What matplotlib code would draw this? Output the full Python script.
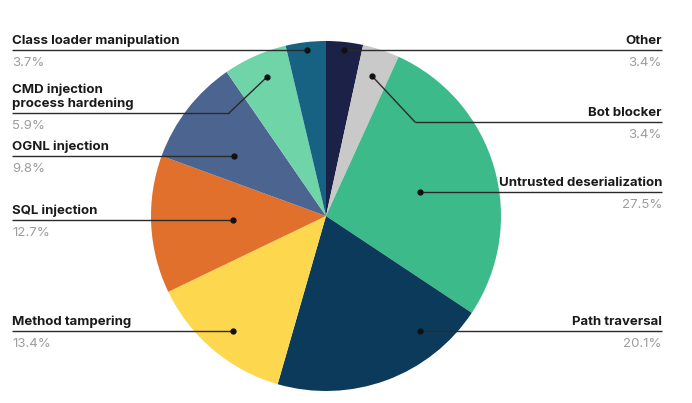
import matplotlib.pyplot as plt

# data, clockwise from 12 o'clock
labels = ['Other', 'Bot blocker', 'Untrusted deserialization', 'Path traversal',
          'Method tampering', 'SQL injection', 'OGNL injection',
          'CMD injection\nprocess hardening', 'Class loader manipulation']
shares = [3.4, 3.4, 27.5, 20.1, 13.4, 12.7, 9.8, 5.9, 3.7]
pct_text = ['3.4%', '3.4%', '27.5%', '20.1%', '13.4%', '12.7%', '9.8%', '5.9%', '3.7%']
colors = ['#1b2147', '#c9c9c9', '#3dba8a', '#0b3a5b', '#fdd84f',
          '#e0702b', '#4b6590', '#6fd5a9', '#176183']

W, H = 692, 403

# label layout in pixel coords: side, line y, dot x, dot y, elbow x
layout = [
    ('R', 50, 344, 50, None),
    ('R', 122, 372, 76, 415),
    ('R', 192, 420, 192, None),
    ('R', 331, 420, 331, None),
    ('L', 331, 233, 331, None),
    ('L', 220, 233, 220, None),
    ('L', 156, 234, 156, None),
    ('L', 113, 267, 77, 229),
    ('L', 50, 307, 50, None),
]


def py(y):
    # pixel y (top down) -> data y
    return H - y


fig = plt.figure(figsize=(W / 100, H / 100), dpi=100)
ax = fig.add_axes([0, 0, 1, 1])

ax.pie(shares, colors=colors, startangle=90, counterclock=False,
       center=(326, py(216)), radius=175, frame=True)
ax.set_xlim(0, W)
ax.set_ylim(0, H)
ax.set_aspect('equal')
ax.axis('off')

fam = ['Inter', 'DejaVu Sans']
x_left, x_right = 12, 662
for i, (side, ly, dx, dy, ex) in enumerate(layout):
    if side == 'L':
        xs = [x_left, ex if ex else dx]
        tx, ha = x_left, 'left'
    else:
        xs = [ex if ex else dx, x_right]
        tx, ha = x_right, 'right'
    ax.plot(xs, [py(ly), py(ly)], color='#2a2a2a', lw=1.0, solid_capstyle='butt')
    if ex:
        ax.plot([ex, dx], [py(ly), py(dy)], color='#2a2a2a', lw=1.0)
    ax.plot(dx, py(dy), 'o', color='#111111', ms=3.5)
    ax.text(tx, py(ly - 3), labels[i], ha=ha, va='bottom', fontsize=9.5,
            fontweight='bold', color='#1a1a1a', family=fam, linespacing=1.2)
    ax.text(tx, py(ly + 7), pct_text[i], ha=ha, va='top', fontsize=9.5,
            fontweight='normal', color='#9d9d9d', family=fam)

fig.savefig('out.png', dpi=100)
